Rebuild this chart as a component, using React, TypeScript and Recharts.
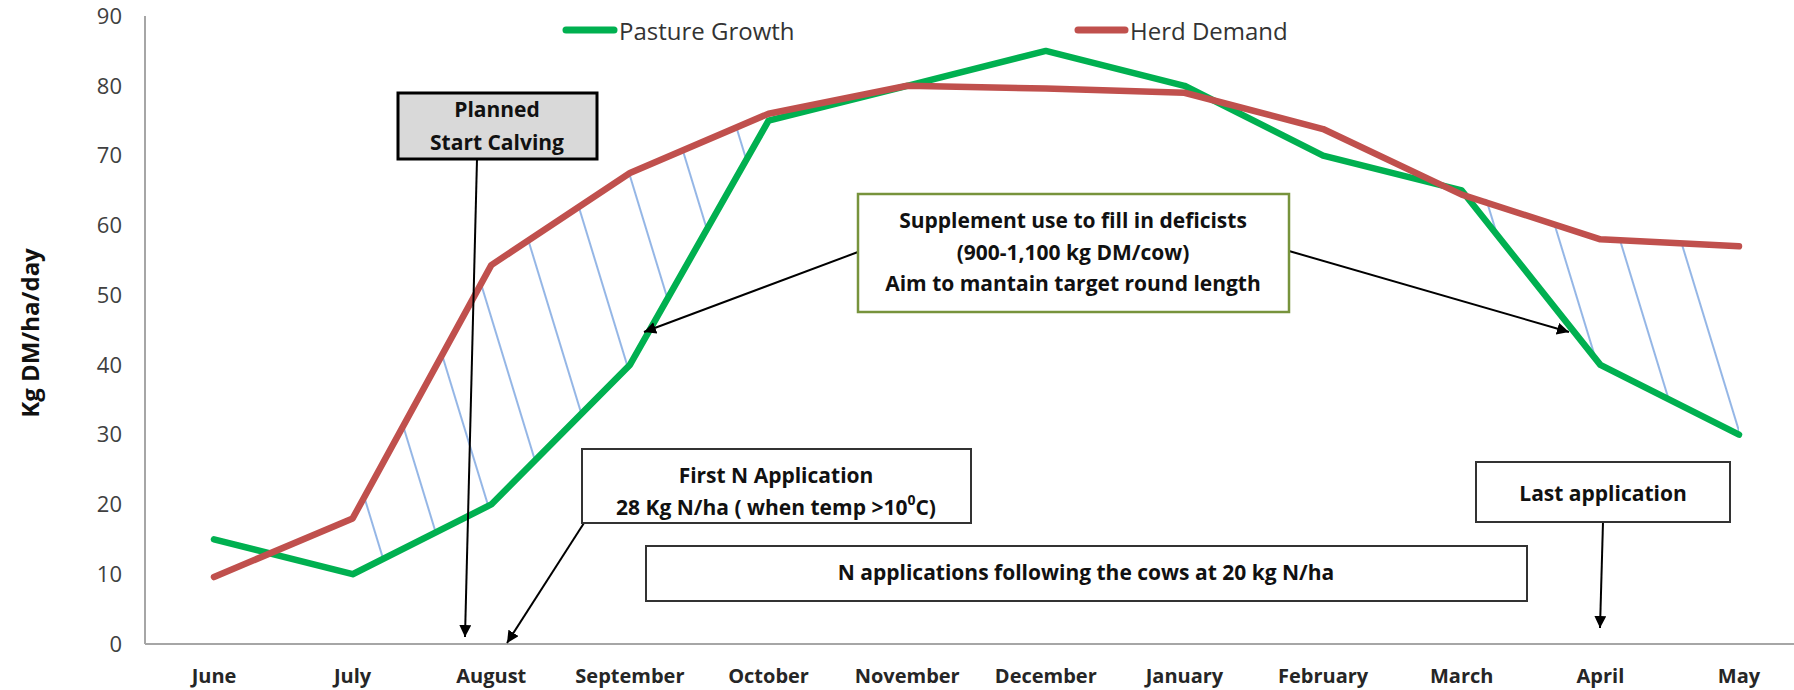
import { Area, ComposedChart, Line, XAxis, YAxis } from "recharts";

const months = [
	"June",
	"July",
	"August",
	"September",
	"October",
	"November",
	"December",
	"January",
	"February",
	"March",
	"April",
	"May",
];
const pastureGrowth = [15, 10, 20, 40, 75, 80, 85, 80, 70, 65, 40, 30];
const herdDemand = [9.6, 18, 54.3, 67.5, 76, 80, 79.6, 79, 73.8, 64.4, 58, 57];
// months where the deficit between demand and growth is hatched
const deficitMonths = [
	"July",
	"August",
	"September",
	"October",
	"March",
	"April",
	"May",
];
const yTicks = [0, 10, 20, 30, 40, 50, 60, 70, 80, 90];

const data = months.map((month, i) => ({
	month,
	growth: pastureGrowth[i],
	demand: herdDemand[i],
	gap: deficitMonths.includes(month)
		? [pastureGrowth[i], Math.max(pastureGrowth[i], herdDemand[i])]
		: null,
}));

const GREEN = "#00b050";
const RED = "#c0504d";
const FONT = '"Open Sans", sans-serif';

function Box({
	x,
	y,
	w,
	h,
	fill = "#fff",
	stroke = "#333",
	sw = 2,
}: {
	x: number;
	y: number;
	w: number;
	h: number;
	fill?: string;
	stroke?: string;
	sw?: number;
}) {
	return <rect x={x} y={y} width={w} height={h} fill={fill} stroke={stroke} strokeWidth={sw} />;
}

function Annotations() {
	const txt = {
		fontFamily: FONT,
		fontWeight: 700,
		fontSize: 21,
		fill: "#111",
		textAnchor: "middle" as const,
		dominantBaseline: "central" as const,
	};
	return (
		<svg
			width={1794}
			height={690}
			style={{ position: "absolute", left: 0, top: 0, pointerEvents: "none" }}
		>
			<defs>
				<marker
					id="arrow"
					viewBox="0 0 10 10"
					refX={10}
					refY={5}
					markerUnits="userSpaceOnUse"
					markerWidth={12}
					markerHeight={12}
					orient="auto"
				>
					<path d="M0,0 L10,5 L0,10 z" fill="#000" />
				</marker>
			</defs>

			{/* legend */}
			<line x1={566} y1={30} x2={614} y2={30} stroke={GREEN} strokeWidth={7} strokeLinecap="round" />
			<text x={619} y={30} fontFamily={FONT} fontSize={24} fill="#333" dominantBaseline="central">
				Pasture Growth
			</text>
			<line x1={1078} y1={30} x2={1125} y2={30} stroke={RED} strokeWidth={7} strokeLinecap="round" />
			<text x={1130} y={30} fontFamily={FONT} fontSize={24} fill="#333" dominantBaseline="central">
				Herd Demand
			</text>

			{/* y axis title */}
			<text
				x={29}
				y={333}
				transform="rotate(-90 29 333)"
				fontFamily={FONT}
				fontWeight={700}
				fontSize={24}
				fill="#111"
				textAnchor="middle"
				dominantBaseline="central"
			>
				Kg DM/ha/day
			</text>

			{/* arrows */}
			<g stroke="#000" strokeWidth={2} markerEnd="url(#arrow)">
				<line x1={477} y1={159} x2={465} y2={637} />
				<line x1={584} y1={523} x2={507} y2={643} />
				<line x1={858} y1={252} x2={644} y2={332} />
				<line x1={1289} y1={251} x2={1569} y2={332} />
				<line x1={1603} y1={522} x2={1600} y2={628} />
			</g>

			<Box x={398} y={93} w={199} h={66} fill="#d9d9d9" stroke="#000" sw={3} />
			<text {...txt} x={497} y={109}>
				Planned
			</text>
			<text {...txt} x={497} y={142}>
				Start Calving
			</text>

			<Box x={858} y={194} w={431} h={118} stroke="#77933c" sw={2.5} />
			<text {...txt} x={1073} y={220}>
				Supplement use to fill in deficists
			</text>
			<text {...txt} x={1073} y={252}>
				(900-1,100 kg DM/cow)
			</text>
			<text {...txt} x={1073} y={283}>
				Aim to mantain target round length
			</text>

			<Box x={582} y={449} w={389} h={74} />
			<text {...txt} x={776} y={475}>
				First N Application
			</text>
			<text {...txt} x={776} y={507}>
				28 Kg N/ha ( when temp &gt;10
				<tspan fontSize={14} dy={-8}>
					0
				</tspan>
				<tspan dy={8}>C)</tspan>
			</text>

			<Box x={646} y={546} w={881} h={55} />
			<text {...txt} x={1086} y={572}>
				N applications following the cows at 20 kg N/ha
			</text>

			<Box x={1476} y={462} w={254} h={60} />
			<text {...txt} x={1603} y={493}>
				Last application
			</text>
		</svg>
	);
}

export default function App() {
	return (
		<div
			style={{
				position: "absolute",
				left: 0,
				top: 0,
				width: 1794,
				height: 690,
				overflow: "hidden",
				background: "#fff",
			}}
		>
			<ComposedChart
				width={1808}
				height={690}
				data={data}
				margin={{ top: 16, right: 0, left: 0, bottom: 0 }}
			>
				<defs>
					<pattern
						id="hatch"
						patternUnits="userSpaceOnUse"
						width={58}
						height={20}
						patternTransform="rotate(-17)"
					>
						<line x1={29} y1={0} x2={29} y2={20} stroke="#5b8fd9" strokeWidth={1.3} />
					</pattern>
				</defs>
				<XAxis
					dataKey="month"
					height={46}
					padding={{ left: 69, right: 69 }}
					tickLine={false}
					tickSize={0}
					tickMargin={25}
					interval={0}
					axisLine={{ stroke: "#a6a6a6", strokeWidth: 2 }}
					tick={{ fontFamily: FONT, fontWeight: 700, fontSize: 20, fill: "#262626" }}
				/>
				<YAxis
					width={145}
					domain={[0, 90]}
					ticks={yTicks}
					tickLine={false}
					tickSize={0}
					tickMargin={23}
					axisLine={{ stroke: "#a6a6a6", strokeWidth: 2 }}
					tick={{ fontFamily: FONT, fontSize: 22, fill: "#404040" }}
				/>
				<Area
					dataKey="gap"
					fill="url(#hatch)"
					fillOpacity={1}
					stroke="none"
					isAnimationActive={false}
					activeDot={false}
				/>
				<Line
					dataKey="growth"
					stroke={GREEN}
					strokeWidth={6.5}
					strokeLinecap="round"
					strokeLinejoin="round"
					dot={false}
					activeDot={false}
					isAnimationActive={false}
				/>
				<Line
					dataKey="demand"
					stroke={RED}
					strokeWidth={6.5}
					strokeLinecap="round"
					strokeLinejoin="round"
					dot={false}
					activeDot={false}
					isAnimationActive={false}
				/>
			</ComposedChart>
			<Annotations />
		</div>
	);
}
